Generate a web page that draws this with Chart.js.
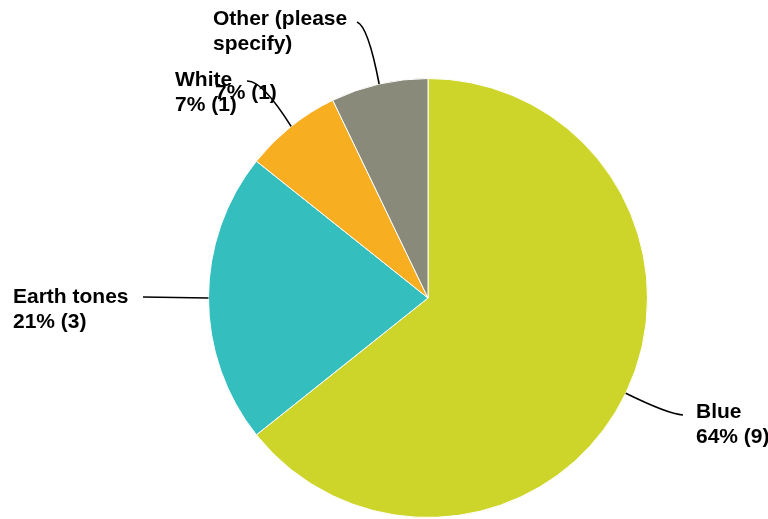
<!DOCTYPE html>
<html>
<head>
<meta charset="utf-8">
<script src="https://cdn.jsdelivr.net/npm/chart.js@4/dist/chart.umd.min.js"></script>
<style>
  html, body { margin: 0; padding: 0; background: #fff; }
  #wrap { width: 768px; height: 519px; position: relative; }
</style>
</head>
<body>
<div id="wrap"><canvas id="pieChart"></canvas></div>
<script>
// Data
const categories = ['Blue', 'Earth tones', 'White', 'Other (please specify)'];
const counts = [9, 3, 1, 1];
const percents = ['64%', '21%', '7%', '7%'];
const sliceColors = ['#CED52A', '#34BEBE', '#F7AE21', '#898A7A'];

// Label text lines and where they sit (label layout only)
const labelLines = [
    ['Blue', percents[0] + ' (' + counts[0] + ')'],
    ['Earth tones', percents[1] + ' (' + counts[1] + ')'],
    ['White', percents[2] + ' (' + counts[2] + ')'],
    ['Other (please', 'specify)']
];
const labelPos = [
    { x: 696, y: 412, end: [683, 415], ctrl: [668, 414] },
    { x: 13, y: 297, end: [143, 297], ctrl: null },
    { x: 175, y: 80, end: [247, 81], ctrl: [262, 80] },
    { x: 213, y: 19, end: [357, 22], ctrl: [368, 26] }
];
// Second percentage line of "Other" sits apart from its name
const otherPctPos = { x: 215, y: 93 };

const calloutPlugin = {
    id: 'callouts',
    afterDatasetsDraw(chart) {
        const ctx = chart.ctx;
        const meta = chart.getDatasetMeta(0);
        ctx.save();
        ctx.strokeStyle = '#000';
        ctx.lineWidth = 1.6;
        ctx.fillStyle = '#000';
        ctx.font = 'bold 21px "Liberation Sans", Arial, sans-serif';
        ctx.textBaseline = 'middle';
        meta.data.forEach((arc, i) => {
            const p = arc.getProps(['x', 'y', 'startAngle', 'endAngle', 'outerRadius'], true);
            const mid = (p.startAngle + p.endAngle) / 2;
            const ax = p.x + Math.cos(mid) * p.outerRadius;
            const ay = p.y + Math.sin(mid) * p.outerRadius;
            const lp = labelPos[i];
            ctx.beginPath();
            ctx.moveTo(ax, ay);
            if (lp.ctrl) {
                ctx.quadraticCurveTo(lp.ctrl[0], lp.ctrl[1], lp.end[0], lp.end[1]);
            } else {
                ctx.lineTo(lp.end[0], lp.end[1]);
            }
            ctx.stroke();
            labelLines[i].forEach((line, j) => {
                ctx.fillText(line, lp.x, lp.y + j * 25);
            });
        });
        ctx.fillText(percents[3] + ' (' + counts[3] + ')', otherPctPos.x, otherPctPos.y);
        ctx.restore();
    }
};

const pieCtx = document.getElementById('pieChart').getContext('2d');
const pieChart = new Chart(pieCtx, {
    type: 'pie',
    data: {
        labels: categories,
        datasets: [{
            data: counts,
            backgroundColor: sliceColors,
            borderColor: '#ffffff',
            borderWidth: 1
        }]
    },
    options: {
        responsive: true,
        maintainAspectRatio: false,
        animation: false,
        layout: {
            padding: { left: 208, right: 120, top: 78, bottom: 1 }
        },
        plugins: {
            legend: { display: false },
            tooltip: { enabled: false }
        }
    },
    plugins: [calloutPlugin]
});
</script>
</body>
</html>
